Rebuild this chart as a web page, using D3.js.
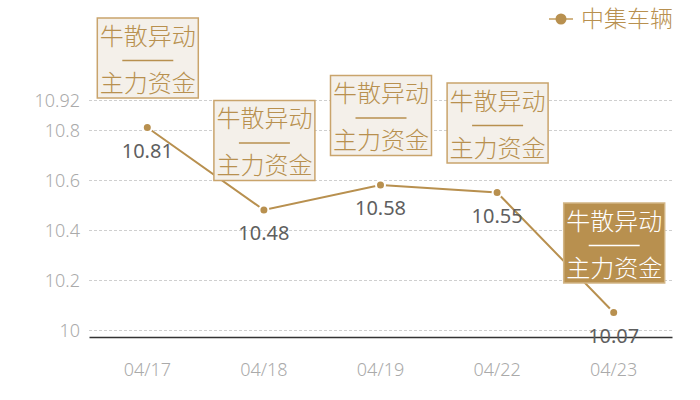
<!DOCTYPE html>
<html>
<head>
<meta charset="utf-8">
<script src="https://cdn.jsdelivr.net/npm/d3@7"></script>
<style>
  html, body { margin: 0; padding: 0; background: #fff; }
  svg { display: block; font-family: "Noto Sans CJK SC", "Noto Sans", sans-serif; }
</style>
</head>
<body>
<svg id="chart"></svg>
<script>
const dates = ['04/17', '04/18', '04/19', '04/22', '04/23'];
const prices = [10.81, 10.48, 10.58, 10.55, 10.07];
const yTicks = [10, 10.2, 10.4, 10.6, 10.8, 10.92];
const seriesName = '中集车辆';
const noteTop = '牛散异动';
const noteBottom = '主力资金';
const highlighted = ['04/23'];

const width = 700;
const height = 400;
const gold = '#b8904f';

const svg = d3.select('#chart')
  .attr('width', width)
  .attr('height', height);

const xScale = d3.scaleBand()
  .domain(dates)
  .range([89, 672]);

const yScale = d3.scaleLinear()
  .domain([9.972, 10.92])
  .range([337, 100]);

const cx = d => xScale(d) + xScale.bandwidth() / 2;

// grid lines
svg.append('g')
  .selectAll('line')
  .data(yTicks)
  .join('line')
    .attr('x1', 89)
    .attr('x2', 672)
    .attr('y1', d => Math.round(yScale(d)) + 0.5)
    .attr('y2', d => Math.round(yScale(d)) + 0.5)
    .attr('stroke', '#cfcfcf')
    .attr('stroke-dasharray', '3,2');

// y axis labels
const yAxis = d3.axisLeft(yScale)
  .tickValues(yTicks)
  .tickFormat(d => d3.format('')(d))
  .tickSize(0)
  .tickPadding(9);

svg.append('g')
  .attr('transform', 'translate(89,0)')
  .call(yAxis)
  .call(g => g.select('.domain').remove())
  .selectAll('text')
    .attr('fill', '#aaaaaa')
    .attr('font-size', 18)
    .attr('font-weight', 300)
    .attr('dy', '0.35em')
    .style('font-family', '"Noto Sans", sans-serif');

// x axis
const xAxis = d3.axisBottom(xScale)
  .tickSize(0)
  .tickPadding(26);

svg.append('g')
  .attr('transform', 'translate(0,337)')
  .call(xAxis)
  .call(g => g.select('.domain').attr('stroke', '#333').attr('stroke-width', 1.5))
  .selectAll('text')
    .attr('fill', '#aaaaaa')
    .attr('font-size', 18)
    .attr('font-weight', 300)
    .style('font-family', '"Noto Sans", sans-serif');

// line
const line = d3.line()
  .x((d, i) => cx(dates[i]))
  .y(d => yScale(d));

svg.append('path')
  .datum(prices)
  .attr('fill', 'none')
  .attr('stroke', gold)
  .attr('stroke-width', 2)
  .attr('d', line);

svg.append('g')
  .selectAll('circle')
  .data(prices)
  .join('circle')
    .attr('cx', (d, i) => cx(dates[i]))
    .attr('cy', d => yScale(d))
    .attr('r', 4.5)
    .attr('fill', gold)
    .attr('stroke', '#fff')
    .attr('stroke-width', 2);

// value labels
svg.append('g')
  .selectAll('text')
  .data(prices)
  .join('text')
    .attr('x', (d, i) => cx(dates[i]))
    .attr('y', d => yScale(d) + 23)
    .attr('dy', '0.35em')
    .attr('text-anchor', 'middle')
    .attr('font-size', 20)
    .attr('fill', '#5f5f5f')
    .style('font-family', '"Noto Sans", sans-serif')
    .text(d => d3.format('.2f')(d));

// annotation boxes
const boxW = 101;
const boxH = 80;
const notes = svg.append('g')
  .selectAll('g')
  .data(prices)
  .join('g')
    .attr('transform', (d, i) => `translate(${cx(dates[i]) - boxW / 2},${yScale(d) - 30 - boxH})`);

notes.append('rect')
  .attr('x', 0.5)
  .attr('y', 0.5)
  .attr('width', boxW)
  .attr('height', boxH)
  .attr('fill', (d, i) => highlighted.includes(dates[i]) ? gold : '#f4f0ea')
  .attr('stroke', (d, i) => highlighted.includes(dates[i]) ? '#d2b585' : '#c9a46c')
  .attr('stroke-width', 1.5);

const noteColor = (d, i) => highlighted.includes(dates[i]) ? '#fff' : gold;

notes.append('text')
  .attr('x', boxW / 2 + 0.5)
  .attr('y', 19)
  .attr('dy', '0.35em')
  .attr('text-anchor', 'middle')
  .attr('font-size', 24)
  .attr('font-weight', 300)
  .attr('fill', noteColor)
  .text(noteTop);

notes.append('line')
  .attr('x1', boxW / 2 - 25)
  .attr('x2', boxW / 2 + 26)
  .attr('y1', 43)
  .attr('y2', 43)
  .attr('stroke', noteColor)
  .attr('stroke-width', 1.5);

notes.append('text')
  .attr('x', boxW / 2 + 0.5)
  .attr('y', 66)
  .attr('dy', '0.35em')
  .attr('text-anchor', 'middle')
  .attr('font-size', 24)
  .attr('font-weight', 300)
  .attr('fill', noteColor)
  .text(noteBottom);

// legend
const legend = svg.append('g').attr('transform', 'translate(549,19)');
legend.append('line')
  .attr('x1', 0)
  .attr('x2', 24)
  .attr('stroke', '#d2b585')
  .attr('stroke-width', 2);
legend.append('circle')
  .attr('cx', 12)
  .attr('r', 5.5)
  .attr('fill', gold);
legend.append('text')
  .attr('x', 32)
  .attr('dy', '0.35em')
  .attr('font-size', 23)
  .attr('font-weight', 300)
  .attr('fill', gold)
  .text(seriesName);
</script>
</body>
</html>
